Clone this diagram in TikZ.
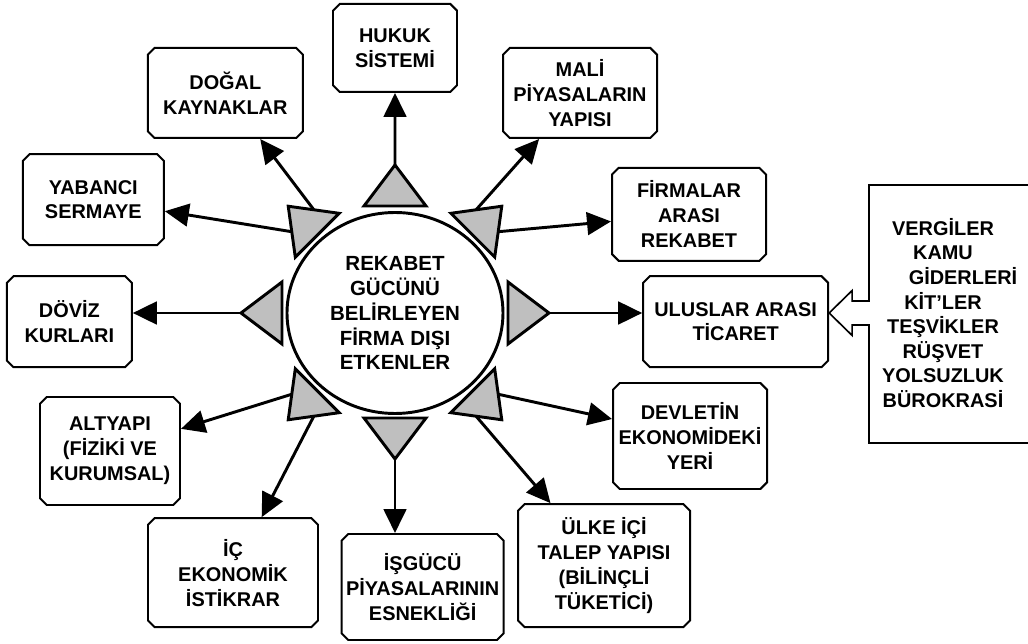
\documentclass[tikz,border=0pt]{standalone}
\usepackage{fontspec}
\setmainfont{Liberation Sans}
\usepackage{tikz}
\usetikzlibrary{positioning, shapes.geometric, shapes.misc, arrows.meta, calc}

\begin{document}
\begin{tikzpicture}[
    node distance=2cm,
    hub/.style={ellipse, draw, line width=2.5pt, minimum width=6.48cm, minimum height=6.03cm, inner sep=0pt, align=center, font=\bfseries\fontsize{17.5}{21.3}\selectfont},
    factor/.style={chamfered rectangle, chamfered rectangle sep=0.1cm, draw, line width=1.7pt, on grid, inner sep=1pt, align=center, font=\bfseries\fontsize{17}{21.3}\selectfont},
    spike/.style={draw, line width=2.5pt, fill=black!25, line join=miter},
    link/.style={line width=2.5pt, -{Triangle[length=0.72cm, width=0.68cm]}},
    frame/.style={line width=1.4pt, line join=miter}
]
\useasboundingbox (-11.85,-9.93) rectangle (18.99,9.39);

% Centre
\node[hub] (main) at (0,0) {REKABET\\GÜCÜNÜ\\BELİRLEYEN\\FİRMA DIŞI\\ETKENLER};

% Triangles round the centre
\foreach \a/\d/\n in {90/3.21/tn, 45/3.3/tne, 0/3.39/te, -45/3.3/tse, -90/3.15/ts, -135/3.3/tsw, 180/3.39/tw, 135/3.3/tnw}{
  \begin{scope}[shift={(main.center)}, rotate=\a]
    \draw[spike] (\d,-0.93) -- (\d+1.23,0) -- (\d,0.93) -- cycle;
    \coordinate (\n-a) at (\d+1.23,0);
    \coordinate (\n-l) at (\d+0.62,0.47);
    \coordinate (\n-r) at (\d+0.62,-0.47);
  \end{scope}
}

% Factors
\node[factor, above=7.95cm of main, minimum width=3.72cm, minimum height=2.64cm] (hukuk) {HUKUK\\SİSTEMİ};
\node[factor, above left=6.6cm and 5.09cm of main, minimum width=4.65cm, minimum height=2.7cm] (dogal) {DOĞAL\\KAYNAKLAR};
\node[factor, above right=6.6cm and 5.55cm of main, minimum width=4.62cm, minimum height=2.7cm] (mali) {MALİ\\PİYASALARIN\\YAPISI};
\node[factor, above left=3.4cm and 9.05cm of main, minimum width=4.23cm, minimum height=2.73cm] (yabanci) {YABANCI\\SERMAYE};
\node[factor, above right=2.96cm and 8.82cm of main, minimum width=4.62cm, minimum height=2.79cm] (firmalar) {FİRMALAR\\ARASI\\REKABET};
\node[factor, below left=0.26cm and 9.77cm of main, minimum width=3.75cm, minimum height=2.73cm] (doviz) {DÖVİZ\\KURLARI};
\node[factor, below right=0.26cm and 10.22cm of main, minimum width=5.55cm, minimum height=2.73cm] (uluslar) {ULUSLAR ARASI\\TİCARET};
\node[factor, below left=4.14cm and 8.55cm of main, minimum width=4.2cm, minimum height=3.24cm] (altyapi) {ALTYAPI\\(FİZİKİ VE\\KURUMSAL)};
\node[factor, below right=3.69cm and 8.85cm of main, minimum width=4.62cm, minimum height=3.18cm] (devlet) {DEVLETİN\\EKONOMİDEKİ\\YERİ};
\node[factor, below left=7.79cm and 4.86cm of main, minimum width=5.1cm, minimum height=3.27cm] (ic) {İÇ\\EKONOMİK\\İSTİKRAR};
\node[factor, below right=8.22cm and 0.83cm of main, minimum width=4.83cm, minimum height=3.18cm] (isgucu) {İŞGÜCÜ\\PİYASALARININ\\ESNEKLİĞİ};
\node[factor, below right=7.58cm and 6.27cm of main, minimum width=5.16cm, minimum height=3.69cm] (ulke) {ÜLKE İÇİ\\TALEP YAPISI\\(BİLİNÇLİ\\TÜKETİCİ)};

% Arrows out of the triangles
\draw[link] (tn-a) -- (hukuk);
\draw[link] (tnw-r) -- (dogal);
\draw[link] (tnw-l) -- (yabanci);
\draw[link] (tne-l) -- (mali);
\draw[link] (tne-r) -- (firmalar);
\draw[link] (tw-a) -- (tw-a -| doviz.east);
\draw[link] (te-a) -- (te-a -| uluslar.west);
\draw[link] (tse-l) -- (devlet);
\draw[link] (tse-r) -- (ulke);
\draw[link] (tsw-r) -- (altyapi);
\draw[link] (tsw-l) -- (ic);
\draw[link] (ts-a) -- (ts-a |- isgucu.north);

% Open box on the right with its hollow arrow
\node[on grid, right=16.44cm of main, align=center, font=\bfseries\fontsize{17}{21}\selectfont] (vergi) {VERGİLER\\KAMU\\\hspace*{1.2cm}GİDERLERİ\\KİT’LER\\TEŞVİKLER\\RÜŞVET\\YOLSUZLUK\\BÜROKRASİ};
\coordinate (vtl) at (14.22,3.84);
\coordinate (vbl) at (14.22,-3.9);
\coordinate (tip) at (uluslar.east |- main);
\draw[frame] ($(vtl)+(4.77,0)$) -- (vtl) -- ($(vtl |- tip)+(0,0.36)$) -- ($(tip)+(0.69,0.36)$)
  -- ($(tip)+(0.69,0.675)$) -- (tip) -- ($(tip)+(0.69,-0.675)$) -- ($(tip)+(0.69,-0.36)$)
  -- ($(vbl |- tip)+(0,-0.36)$) -- (vbl) -- ($(vbl)+(4.77,0)$);

\end{tikzpicture}
\end{document}
